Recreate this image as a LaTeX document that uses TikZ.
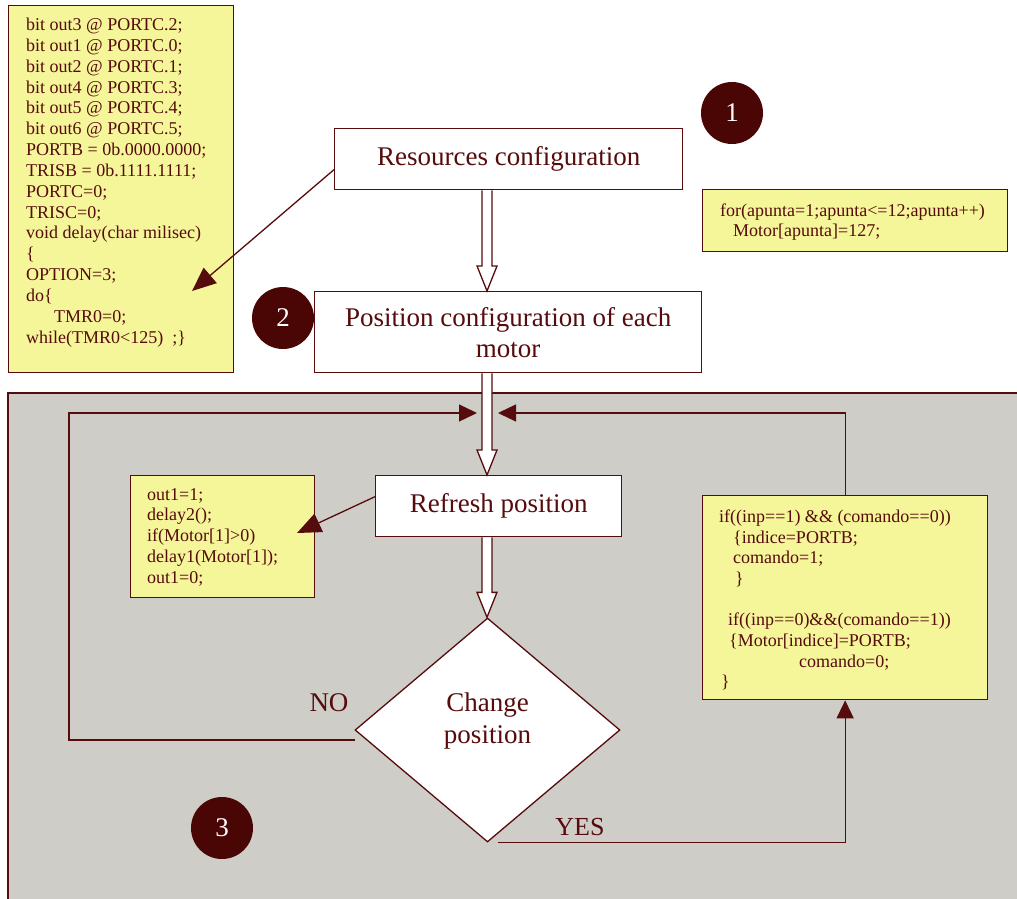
\documentclass[tikz,border=0pt]{standalone}
\usepackage{fontspec}
\setmainfont{Liberation Serif}
\usetikzlibrary{arrows.meta,calc,shapes.geometric}
\definecolor{mar}{HTML}{560C0C}
\definecolor{circ}{HTML}{4A0505}
\definecolor{yel}{HTML}{F5F59A}
\definecolor{gry}{HTML}{CECDC8}
\newcommand{\holarrow}[2]{\draw[hol] let \p1=(#1), \p2=(#2) in (\x1-5pt,\y1) -- (\x1-5pt,\y2+25pt) -- (\x1-10pt,\y2+25pt) -- (\x1,\y2) -- (\x1+10pt,\y2+25pt) -- (\x1+5pt,\y2+25pt) -- (\x1+5pt,\y1);}
\begin{document}
\begin{tikzpicture}[x=1pt,y=-1pt,
  box/.style={draw=mar, line width=1.3pt, fill=white, inner sep=0pt, text=mar, font=\fontsize{27}{31}\selectfont, align=center, anchor=north west},
  codebox/.style={draw=mar, line width=1.3pt, fill=yel, inner sep=0pt, anchor=north west},
  code/.style={text=mar, font=\fontsize{18}{21}\selectfont, inner sep=0pt, anchor=base west},
  num/.style={circle, fill=circ, minimum size=62pt, inner sep=0pt, text=white, font=\fontsize{27}{31}\selectfont},
  lbl/.style={text=mar, font=\fontsize{27}{31}\selectfont, inner sep=0pt},
  conn/.style={draw=mar, line width=1.3pt},
  arr/.style={conn, -{Triangle[length=18pt,width=17pt]}},
  bigarr/.style={conn, -{Triangle[length=24pt,width=20pt]}},
  hol/.style={draw=mar, line width=1.3pt, fill=white, line join=miter},
]
\useasboundingbox (0,0) rectangle (1017,899);
\clip (0,0) rectangle (1017,899);
% gray region
\path[fill=gry, draw=mar, line width=1.3pt] (8,393) rectangle (1040,920);

% axis
\coordinate (ax) at (487,0);

% code boxes
\node[codebox, minimum width=225pt, minimum height=367pt] (cfg) at (8,5) {};
\foreach \tx [count=\i] in {
  {bit out3 @ PORTC.2;},{bit out1 @ PORTC.0;},{bit out2 @ PORTC.1;},{bit out4 @ PORTC.3;},
  {bit out5 @ PORTC.4;},{bit out6 @ PORTC.5;},{PORTB = 0b.0000.0000;},{TRISB = 0b.1111.1111;},
  {PORTC=0;},{TRISC=0;},{void delay(char milisec)},{\{},{OPTION=3;},{do\{},
  {\hspace*{28pt}TMR0=0;},{while(TMR0<125)\ \ ;\}}}
  \node[code] (L\i) at (26,{30.7+20.82*(\i-1)}) {\tx};

\node[codebox, minimum width=305pt, minimum height=62pt] (forb) at (702,189) {};
\node[code] (F1) at (720,216) {for(apunta=1;apunta<=12;apunta++)};
\node[code] (F2) at (733,236) {Motor[apunta]=127;};

\node[codebox, minimum width=184pt, minimum height=122pt] (sbox) at (130,475) {};
\foreach \tx [count=\i] in {{out1=1;},{delay2();},{if(Motor[1]>0)},{delay1(Motor[1]);},{out1=0;}}
  \node[code] (S\i) at (147,{500+20.8*(\i-1)}) {\tx};

\node[codebox, minimum width=285pt, minimum height=204pt] (rbox) at (702,495) {};
\foreach \xx/\yy/\tx [count=\i] in {
  719/522/{if((inp==1) \&\& (comando==0))},
  733/543/{\{indice=PORTB;},
  733/563/{comando=1;},
  735/584/{\}},
  728/625/{if((inp==0)\&\&(comando==1))},
  729/646/{\{Motor[indice]=PORTB;},
  799/667/{comando=0;},
  721/687/{\}}}
  \node[code] (R\i) at (\xx,\yy) {\tx};

% process boxes
\node[box, minimum width=348pt, minimum height=61pt] (res) at (334,128) {Resources configuration};
\node[box, minimum width=387pt, minimum height=81pt] (pos) at (314,291) {Position configuration of each\\motor};
\node[box, minimum width=246pt, minimum height=61pt] (ref) at (375,475) {Refresh position};
\node[diamond, draw=mar, line width=1.3pt, fill=white, minimum width=265pt, minimum height=224pt, inner sep=0pt] (chg) at (487.5,730) {};
\node[lbl, align=center, font=\fontsize{27}{32}\selectfont] (chgt) at (487.5,721) {Change\\position};

% numbers
\node[num] (n1) at (732,113) {1};
\node[num] (n2) at (283,318) {2};
\node[num] (n3) at (222,828) {3};

% hollow arrows
\holarrow{res.south -| ax}{pos.north -| ax}
\holarrow{pos.south -| ax}{ref.north -| ax}
\holarrow{ref.south -| ax}{chg.north}

% connectors
\coordinate (t1) at (192,291);
\coordinate (t2) at (297,533);
\coordinate (tl) at (477,413);
\coordinate (tr) at (498,413);
\coordinate (nostart) at (355,740);
\draw[bigarr] ([yshift=-10.5pt]res.west) -- (t1);
\draw[bigarr] ([yshift=9.5pt]ref.west) -- (t2);
\draw[arr] (nostart) -- (69,740) -- (69,413) -- (tl);
\draw[arr] (rbox.north) -- (rbox.north |- tr) -- (tr);
\draw[arr] ([xshift=10pt]chg.south) -- (chg.south -| rbox.south) -- (rbox.south);

% labels
\node[lbl] (no) at (329,703) {NO};
\node[lbl, font=\fontsize{26}{30}\selectfont] (yes) at (580,827) {YES};
\end{tikzpicture}
\end{document}
